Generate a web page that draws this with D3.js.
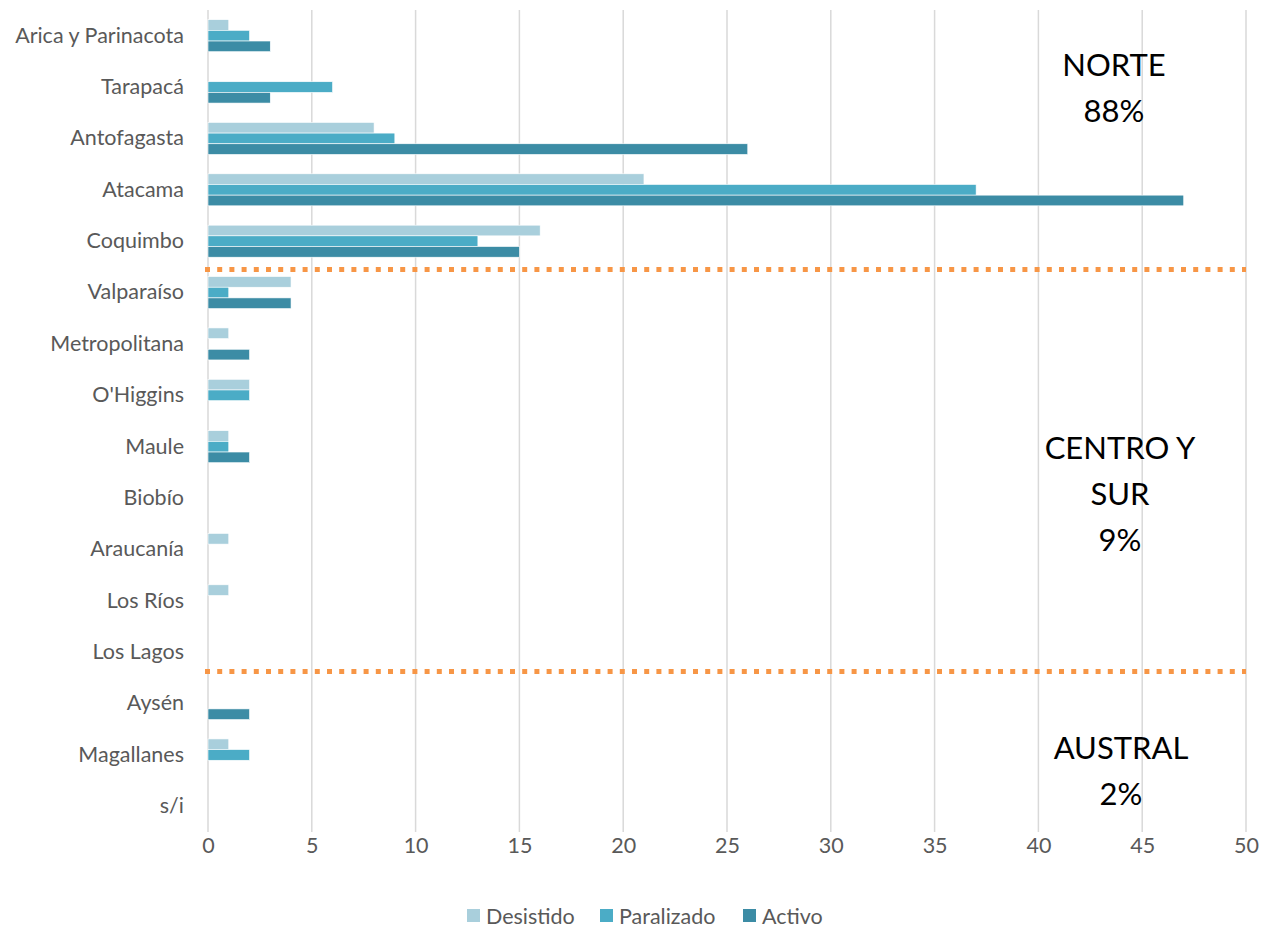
<!DOCTYPE html>
<html lang="es">
<head>
  <meta charset="UTF-8">
  <title>Regiones</title>
  <script src="https://d3js.org/d3.v7.min.js"></script>
  <style>
    body { margin: 0; background: #fff; }
    text { font-family: Lato, "Open Sans", sans-serif; }
    .tick text { fill: #595959; font-size: 21.5px; }
    .grid line { stroke: #d9d9d9; stroke-width: 1.5px; }
    .note { fill: #000; font-size: 31px; text-anchor: middle; }
  </style>
</head>
<body>
  <svg width="1274" height="929"></svg>
  <script>
    // datos
    const regions = ["Arica y Parinacota", "Tarapacá", "Antofagasta", "Atacama", "Coquimbo",
                     "Valparaíso", "Metropolitana", "O'Higgins", "Maule", "Biobío", "Araucanía",
                     "Los Ríos", "Los Lagos", "Aysén", "Magallanes", "s/i"];
    const series = ["Desistido", "Paralizado", "Activo"];
    const desistido  = [1, 0, 8, 21, 16, 4, 1, 2, 1, 0, 1, 1, 0, 0, 1, 0];
    const paralizado = [2, 6, 9, 37, 13, 1, 0, 2, 1, 0, 0, 0, 0, 0, 2, 0];
    const activo     = [3, 3, 26, 47, 15, 4, 2, 0, 2, 0, 0, 0, 0, 2, 0, 0];
    const xTicks = [0, 5, 10, 15, 20, 25, 30, 35, 40, 45, 50];
    const zones = [
      { lines: ["NORTE", "88%"] },
      { lines: ["CENTRO Y", "SUR", "9%"] },
      { lines: ["AUSTRAL", "2%"] }
    ];
    const colors = ["#a9cfdc", "#4bacc6", "#3c8ca5"];

    const values = [desistido, paralizado, activo];
    const rows = regions.map((r, i) => ({ region: r, vals: series.map((s, k) => ({ s, v: values[k][i] })) }));

    const svg = d3.select("svg");
    const m = { left: 208, right: 1246, top: 10, bottom: 832 };

    const x = d3.scaleLinear().domain([0, 50]).range([m.left, m.right]);
    const y = d3.scaleBand().domain(regions).range([m.top, m.bottom])
                .paddingInner(0.377).paddingOuter(0.1885);
    const ys = d3.scaleBand().domain(series).range([0, y.bandwidth()]);
    const color = d3.scaleOrdinal().domain(series).range(colors);

    // grid
    svg.append("g").attr("class", "grid")
      .selectAll("line").data(xTicks).join("line")
        .attr("x1", d => x(d)).attr("x2", d => x(d))
        .attr("y1", m.top).attr("y2", m.bottom);

    // x axis labels
    const xAxis = svg.append("g").attr("transform", `translate(0,${m.bottom})`)
      .call(d3.axisBottom(x).tickValues(xTicks).tickSize(0));
    xAxis.select(".domain").remove();
    xAxis.selectAll("text").attr("dy", "0.35em").attr("y", 13);

    // y axis labels
    const yAxis = svg.append("g").attr("transform", `translate(${m.left},0)`)
      .call(d3.axisLeft(y).tickSize(0).tickPadding(24));
    yAxis.select(".domain").remove();

    // bars
    svg.append("g").selectAll("g").data(rows).join("g")
      .attr("transform", d => `translate(0,${y(d.region)})`)
      .selectAll("rect").data(d => d.vals.filter(e => e.v > 0)).join("rect")
        .attr("x", x(0))
        .attr("y", d => ys(d.s))
        .attr("width", d => x(d.v) - x(0))
        .attr("height", ys.bandwidth())
        .attr("fill", d => color(d.s))
        .attr("stroke", "#fff").attr("stroke-width", 0.6);

    // separadores de zona
    const sepY = [y("Valparaíso") - 7, y("Aysén") - 16];
    svg.append("g").selectAll("line").data(sepY).join("line")
      .attr("x1", m.left - 3).attr("x2", m.right)
      .attr("y1", d => d).attr("y2", d => d)
      .attr("stroke", "#f79646").attr("stroke-width", 5)
      .attr("stroke-dasharray", "5,7.2");

    // textos de zona
    const noteX = [1114, 1120, 1121];
    const noteY = [65, 448, 748];
    const notes = svg.append("g");
    zones.forEach((z, i) => {
      z.lines.forEach((t, j) => {
        notes.append("text").attr("class", "note")
          .attr("x", noteX[i]).attr("y", noteY[i] + j * 46)
          .attr("dy", "0.35em").text(t);
      });
    });

    // leyenda
    const legX = [467, 600, 743];
    const leg = svg.append("g").attr("transform", "translate(0,916)");
    series.forEach((s, i) => {
      leg.append("rect").attr("x", legX[i]).attr("y", -7).attr("width", 13).attr("height", 13)
        .attr("fill", color(s));
      leg.append("text").attr("x", legX[i] + 19).attr("y", 0).attr("dy", "0.35em")
        .attr("fill", "#595959").style("font-size", "21.5px").text(s);
    });
  </script>
</body>
</html>
